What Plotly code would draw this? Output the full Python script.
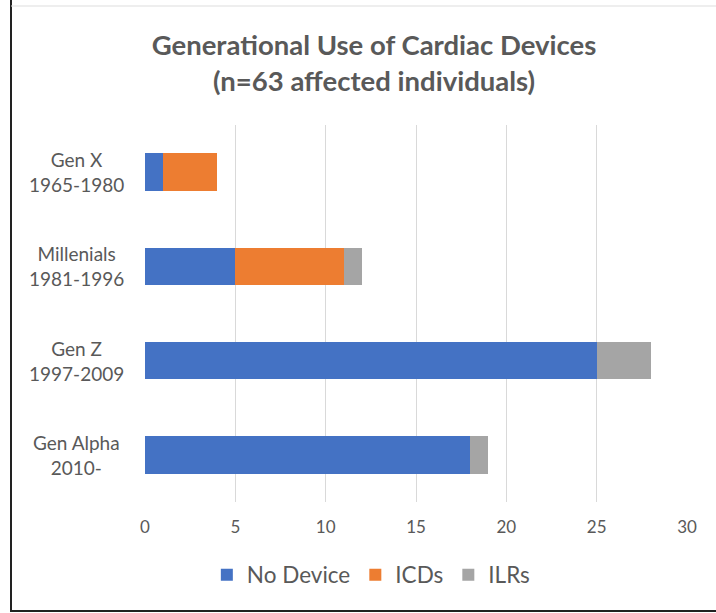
import plotly.graph_objects as go

categories = ["Gen X<br>1965-1980", "Millenials<br>1981-1996", "Gen Z<br>1997-2009", "Gen Alpha<br>2010-"]
no_device = [1, 5, 25, 18]
icds = [3, 6, 0, 0]
ilrs = [0, 1, 3, 1]
tick_vals = [0, 5, 10, 15, 20, 25, 30]

W, H = 716, 613
ml, mr, mt, mb = 145, 29, 125, 111
pw, ph = W - ml - mr, H - mt - mb

fig = go.Figure()
for name, vals, col in [("No Device", no_device, "#4472C4"), ("ICDs", icds, "#ED7D31"), ("ILRs", ilrs, "#A5A5A5")]:
    fig.add_trace(go.Bar(y=categories, x=vals, name=name, orientation="h",
                         marker=dict(color=col, line=dict(width=0)), width=0.4))

def px_x(p):
    return (p - ml) / pw
def px_y(p):
    return 1 - (p - mt) / ph

fig.update_layout(
    width=W, height=H,
    barmode="stack",
    paper_bgcolor="white", plot_bgcolor="white",
    margin=dict(l=ml, r=mr, t=mt, b=mb),
    font=dict(family="Lato, Open Sans, sans-serif", color="#595959"),
    title=dict(text="<b>Generational Use of Cardiac Devices<br>(n=63 affected individuals)</b>",
               x=374 / W, xanchor="center", y=1 - 55 / H, yanchor="middle",
               font=dict(size=27.5, color="#595959")),
    xaxis=dict(range=[0, 30], tickvals=tick_vals, showgrid=True, gridcolor="#D9D9D9", gridwidth=1,
               zeroline=False, showline=False, ticks="", tickfont=dict(size=17, color="#595959"),
               ticklabelstandoff=13),
    yaxis=dict(autorange="reversed", showgrid=False, zeroline=False, showline=False, ticks="",
               showticklabels=False),
    legend=dict(orientation="h", x=299 / W, xanchor="center", y=px_y(575), yanchor="middle",
                yref="paper", font=dict(size=22.5, color="#595959"), traceorder="normal",
                itemwidth=30),
    showlegend=True,
)

for c in categories:
    fig.add_annotation(x=px_x(76), xref="paper", y=c, yref="y", text=c, showarrow=False,
                       xanchor="center", yanchor="middle", align="center",
                       font=dict(size=19, color="#595959"))

fig.add_shape(type="line", xref="paper", yref="paper", x0=px_x(11), x1=px_x(11), y0=px_y(0), y1=px_y(612),
              line=dict(color="#222222", width=2))
fig.add_shape(type="line", xref="paper", yref="paper", x0=px_x(11), x1=px_x(716), y0=px_y(611), y1=px_y(611),
              line=dict(color="#222222", width=2))
fig.add_shape(type="line", xref="paper", yref="paper", x0=px_x(11), x1=px_x(716), y0=px_y(6), y1=px_y(6),
              line=dict(color="#DDDDDD", width=1))

fig.write_html("out.html", config={"displayModeBar": False},
               post_script="document.body.style.margin='0';document.body.style.overflow='hidden';")
